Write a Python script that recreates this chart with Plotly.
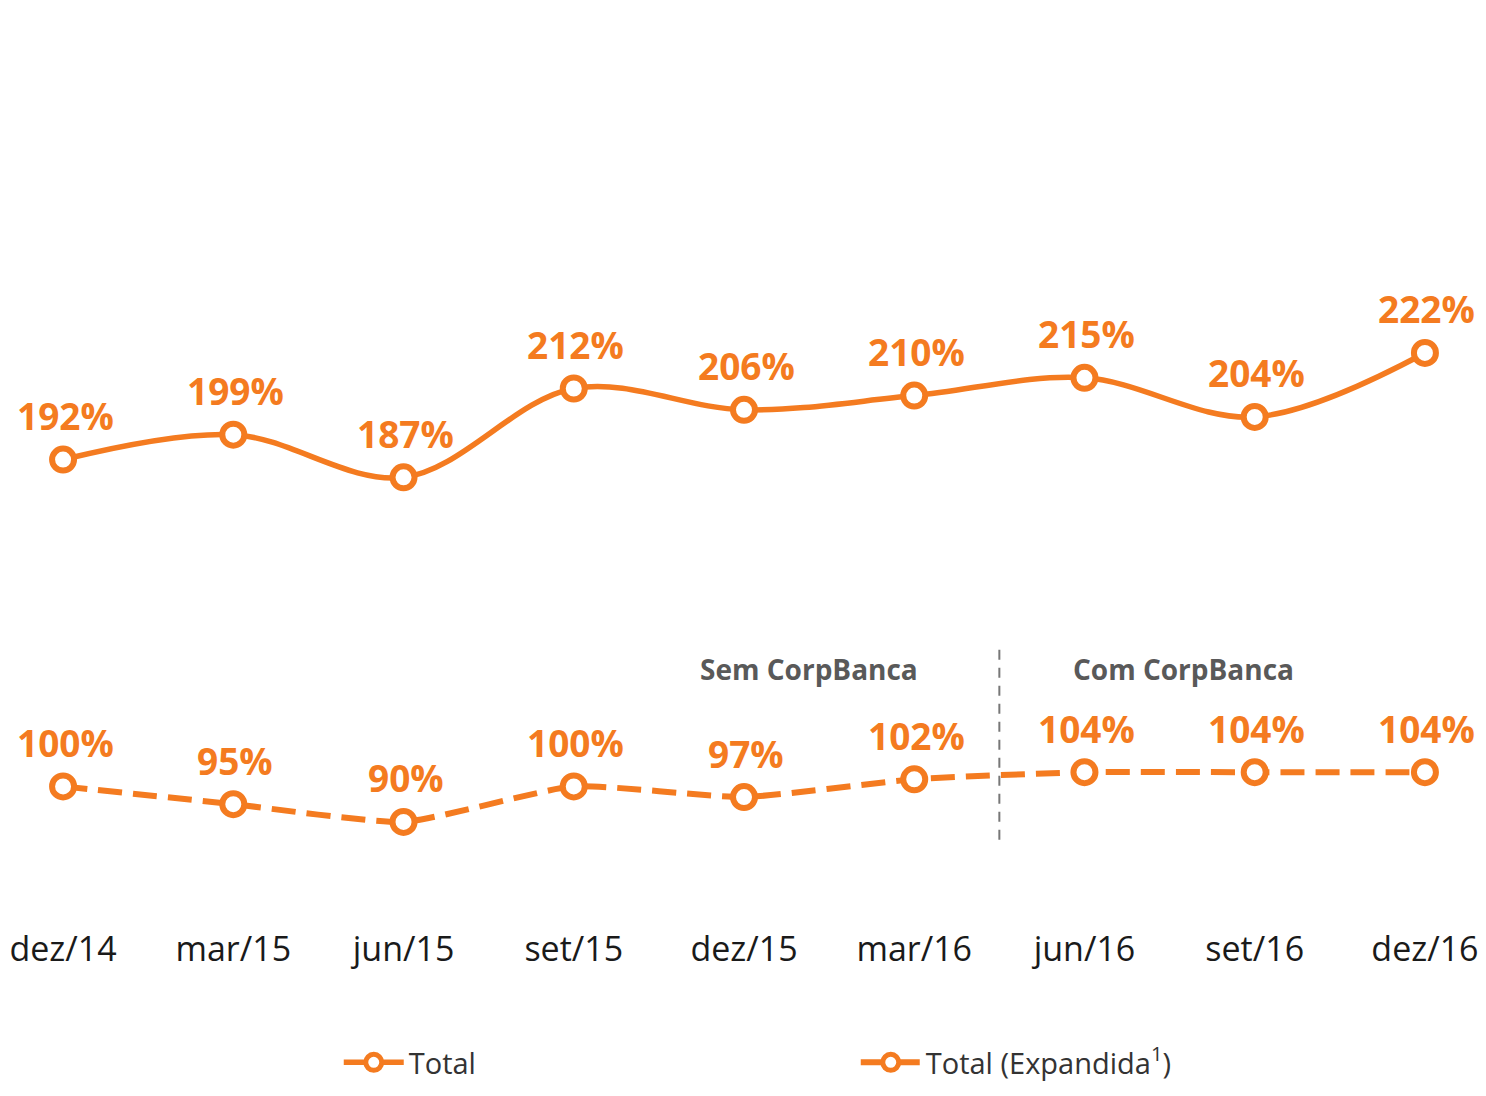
import plotly.graph_objects as go

quarters = ["dez/14", "mar/15", "jun/15", "set/15", "dez/15", "mar/16", "jun/16", "set/16", "dez/16"]
total = [192, 199, 187, 212, 206, 210, 215, 204, 222]
total_expandida = [100, 95, 90, 100, 97, 102, 104, 104, 104]

ORANGE = "#F47B20"
GREY = "#595959"
LABEL_FONT = "Open Sans"

x_idx = list(range(len(quarters)))

fig = go.Figure()

fig.add_trace(go.Scatter(
    x=x_idx, y=total, name="Total",
    mode="lines+markers",
    line=dict(color=ORANGE, width=5.5, shape="spline", smoothing=1.0),
    marker=dict(symbol="circle", size=22, color="white", line=dict(color=ORANGE, width=6)),
))
fig.add_trace(go.Scatter(
    x=x_idx, y=total_expandida, name="Total (Expandida<sup>1</sup>)",
    mode="lines+markers",
    line=dict(color=ORANGE, width=6, dash="24px,11px", shape="spline", smoothing=0.5),
    marker=dict(symbol="circle", size=22, color="white", line=dict(color=ORANGE, width=6)),
))

# value labels above each point
for series in (total, total_expandida):
    for i, v in zip(x_idx, series):
        fig.add_annotation(
            x=i, y=v, text=f"<b>{v}%</b>", showarrow=False,
            yanchor="middle", yshift=44, xshift=2,
            font=dict(family=LABEL_FONT, size=37, color=ORANGE),
        )

# divider between without / with CorpBanca
fig.add_shape(type="line", x0=5.5, x1=5.5, y0=85, y1=140,
              line=dict(color="#777777", width=2, dash="10px,8px"))
fig.add_annotation(x=4.38, y=133, text="<b>Sem CorpBanca</b>", showarrow=False,
                   font=dict(family=LABEL_FONT, size=28, color=GREY))
fig.add_annotation(x=6.58, y=133, text="<b>Com CorpBanca</b>", showarrow=False,
                   font=dict(family=LABEL_FONT, size=28, color=GREY))

fig.update_xaxes(
    range=[-0.3, 8.3], tickvals=x_idx, ticktext=quarters,
    showgrid=False, zeroline=False, showline=False, ticks="",
    ticklabeloverflow="allow",
    tickfont=dict(family=LABEL_FONT, size=34, color="#1a1a1a"),
)
fig.update_yaxes(range=[60.7, 319.1], visible=False, showgrid=False, zeroline=False)

fig.update_layout(
    width=1470, height=1080,
    margin=dict(l=4, r=2, t=0, b=162, autoexpand=False),
    plot_bgcolor="white", paper_bgcolor="white",
    showlegend=True,
    legend=dict(
        orientation="h", xref="container", yref="container",
        x=0.225, xanchor="left", y=0.0, yanchor="bottom",
        entrywidth=442, entrywidthmode="pixels",
        font=dict(family=LABEL_FONT, size=29, color="#333333"),
        itemwidth=60,
    ),
)

fig.write_html("out.html")
